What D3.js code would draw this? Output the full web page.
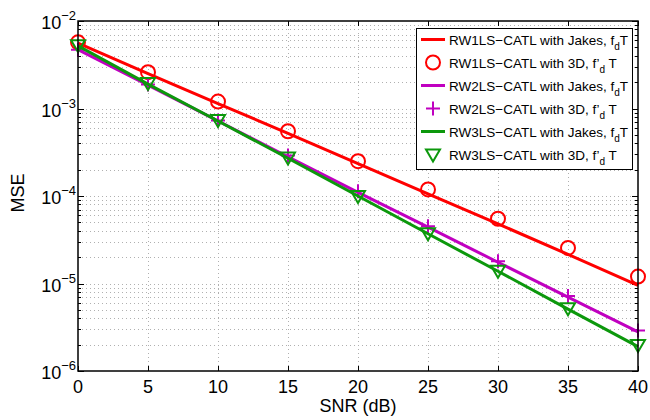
<!DOCTYPE html>
<html>
<head>
<meta charset="utf-8">
<script src="https://cdn.jsdelivr.net/npm/d3@7"></script>
<style>
  body { margin: 0; background: #fff; }
  svg { font-family: "Liberation Sans", Arial, sans-serif; }
  text { white-space: pre; }
</style>
</head>
<body>
<div id="chart"></div>
<script>
// SNR axis values (dB)
const snr = [0, 5, 10, 15, 20, 25, 30, 35, 40];

// RW1LS-CATL
const rw1Jakes = [5.6e-3, 2.5e-3, 1.14e-3, 5.2e-4, 2.35e-4, 1.06e-4, 4.8e-5, 2.15e-5, 9.5e-6];
const rw13D = [5.7e-3, 2.6e-3, 1.2e-3, 5.5e-4, 2.5e-4, 1.19e-4, 5.5e-5, 2.55e-5, 1.2e-5];
// RW2LS-CATL
const rw2Jakes = [4.7e-3, 1.85e-3, 7.2e-4, 2.8e-4, 1.1e-4, 4.4e-5, 1.75e-5, 7.0e-6, 2.8e-6];
const rw23D = [4.7e-3, 1.88e-3, 7.3e-4, 2.9e-4, 1.13e-4, 4.5e-5, 1.8e-5, 7.2e-6, 2.9e-6];
// RW3LS-CATL
const rw3Jakes = [5.2e-3, 1.9e-3, 7.2e-4, 2.7e-4, 1.0e-4, 3.7e-5, 1.38e-5, 5.1e-6, 1.9e-6];
const rw33D = [5.3e-3, 1.95e-3, 7.4e-4, 2.75e-4, 1.0e-4, 3.75e-5, 1.4e-5, 5.2e-6, 1.98e-6];

const xTicks = [0, 5, 10, 15, 20, 25, 30, 35, 40];
const yExponents = [-6, -5, -4, -3, -2];

const series = [
    { name: 'RW1LS\u2212CATL with Jakes, ', sub: 'jakes', values: rw1Jakes, color: '#ff0000', kind: 'line' },
    { name: 'RW1LS\u2212CATL with 3D, ', sub: '3d', values: rw13D, color: '#ff0000', kind: 'circle' },
    { name: 'RW2LS\u2212CATL with Jakes, ', sub: 'jakes', values: rw2Jakes, color: '#c000c0', kind: 'line' },
    { name: 'RW2LS\u2212CATL with 3D, ', sub: '3d', values: rw23D, color: '#c000c0', kind: 'plus' },
    { name: 'RW3LS\u2212CATL with Jakes, ', sub: 'jakes', values: rw3Jakes, color: '#0c980c', kind: 'line' },
    { name: 'RW3LS\u2212CATL with 3D, ', sub: '3d', values: rw33D, color: '#0c980c', kind: 'tri' }
];

const W = 650, H = 420;
const plot = { left: 78, right: 638, top: 21, bottom: 371 };

const svg = d3.select('#chart').append('svg')
    .attr('width', W)
    .attr('height', H);

const x = d3.scaleLinear().domain([0, 40]).range([plot.left, plot.right]);
const y = d3.scaleLog().domain([1e-6, 1e-2]).range([plot.bottom, plot.top]);

// grid
const grid = svg.append('g')
    .attr('stroke', '#b0b0b0')
    .attr('stroke-width', 1)
    .attr('stroke-dasharray', '1,3');

xTicks.slice(1, -1).forEach(t => {
    grid.append('line')
        .attr('x1', Math.round(x(t)) + 0.5).attr('x2', Math.round(x(t)) + 0.5)
        .attr('y1', plot.top).attr('y2', plot.bottom);
});

const yGridVals = [];
yExponents.slice(0, -1).forEach(e => {
    for (let m = 1; m <= 9; m++) {
        const v = m * Math.pow(10, e);
        if (v > 1e-6) yGridVals.push(v);
    }
});
yGridVals.forEach(v => {
    grid.append('line')
        .attr('x1', plot.left).attr('x2', plot.right)
        .attr('y1', Math.round(y(v)) + 0.5).attr('y2', Math.round(y(v)) + 0.5);
});

// ticks (inward, both sides)
const ticks = svg.append('g').attr('stroke', '#000').attr('stroke-width', 1);
xTicks.forEach(t => {
    const xx = Math.round(x(t)) + 0.5;
    ticks.append('line').attr('x1', xx).attr('x2', xx).attr('y1', plot.bottom).attr('y2', plot.bottom - 5);
    ticks.append('line').attr('x1', xx).attr('x2', xx).attr('y1', plot.top).attr('y2', plot.top + 5);
});
yGridVals.concat([1e-6, 1e-2]).forEach(v => {
    const major = Math.abs(Math.log10(v) - Math.round(Math.log10(v))) < 1e-9;
    const len = major ? 6 : 3;
    const yy = Math.round(y(v)) + 0.5;
    ticks.append('line').attr('x1', plot.left).attr('x2', plot.left + len).attr('y1', yy).attr('y2', yy);
    ticks.append('line').attr('x1', plot.right).attr('x2', plot.right - len).attr('y1', yy).attr('y2', yy);
});

// data
const line = d3.line()
    .x((d, i) => x(snr[i]))
    .y(d => y(d));

function drawMarker(g, kind, cx, cy, color) {
    if (kind === 'circle') {
        g.append('circle').attr('cx', cx).attr('cy', cy).attr('r', 7)
            .attr('fill', 'none').attr('stroke', color).attr('stroke-width', 2);
    } else if (kind === 'plus') {
        g.append('path').attr('d', `M${cx - 7},${cy}H${cx + 7}M${cx},${cy - 7}V${cy + 7}`)
            .attr('stroke', color).attr('stroke-width', 2);
    } else if (kind === 'tri') {
        g.append('path').attr('d', `M${cx - 7},${cy - 5}L${cx + 7},${cy - 5}L${cx},${cy + 7}Z`)
            .attr('fill', 'none').attr('stroke', color).attr('stroke-width', 2)
            .attr('stroke-linejoin', 'miter');
    }
}

series.forEach(s => {
    const g = svg.append('g');
    if (s.kind === 'line') {
        g.append('path')
            .datum(s.values)
            .attr('fill', 'none')
            .attr('stroke', s.color)
            .attr('stroke-width', 3)
            .attr('d', line);
    } else {
        s.values.forEach((v, i) => drawMarker(g, s.kind, x(snr[i]), y(v), s.color));
    }
});

// axes box
svg.append('rect')
    .attr('x', plot.left).attr('y', plot.top)
    .attr('width', plot.right - plot.left).attr('height', plot.bottom - plot.top)
    .attr('fill', 'none').attr('stroke', '#000').attr('stroke-width', 1.5);

// tick labels
xTicks.forEach(t => {
    svg.append('text')
        .attr('x', x(t)).attr('y', plot.bottom + 22)
        .attr('text-anchor', 'middle')
        .attr('font-size', '18px')
        .text(t);
});

yExponents.forEach(e => {
    const t = svg.append('text')
        .attr('x', plot.left - 2).attr('y', y(Math.pow(10, e)) + 8)
        .attr('text-anchor', 'end')
        .attr('font-size', '18px');
    t.append('tspan').text('10');
    t.append('tspan').attr('dy', -9).attr('font-size', '13px').text('\u2212' + Math.abs(e));
});

// axis labels
svg.append('text')
    .attr('x', (plot.left + plot.right) / 2).attr('y', 412)
    .attr('text-anchor', 'middle')
    .attr('font-size', '18px')
    .text('SNR (dB)');

svg.append('text')
    .attr('transform', 'rotate(-90)')
    .attr('x', -193).attr('y', 24)
    .attr('text-anchor', 'middle')
    .attr('font-size', '18px')
    .text('MSE');

// legend
const lg = svg.append('g');
lg.append('rect')
    .attr('x', 416.5).attr('y', 28.5)
    .attr('width', 216).attr('height', 141)
    .attr('fill', '#fff').attr('stroke', '#000').attr('stroke-width', 1);

series.forEach((s, i) => {
    const cy = 39.5 + i * 23;
    if (s.kind === 'line') {
        lg.append('line')
            .attr('x1', 421).attr('x2', 445)
            .attr('y1', cy).attr('y2', cy)
            .attr('stroke', s.color).attr('stroke-width', 3);
    } else {
        drawMarker(lg, s.kind, 433, cy, s.color);
    }
    const t = lg.append('text')
        .attr('x', 449).attr('y', cy + 5)
        .attr('font-size', '13.5px');
    if (s.sub === 'jakes') {
        t.append('tspan').text(s.name + 'f');
        t.append('tspan').attr('dy', 5).attr('font-size', '10px').text('d');
        t.append('tspan').attr('dy', -5).text('T');
    } else {
        t.append('tspan').text(s.name + 'f\u2019');
        t.append('tspan').attr('dy', 5).attr('font-size', '10px').text('d');
        t.append('tspan').attr('dy', -5).text(' T');
    }
});
</script>
</body>
</html>
